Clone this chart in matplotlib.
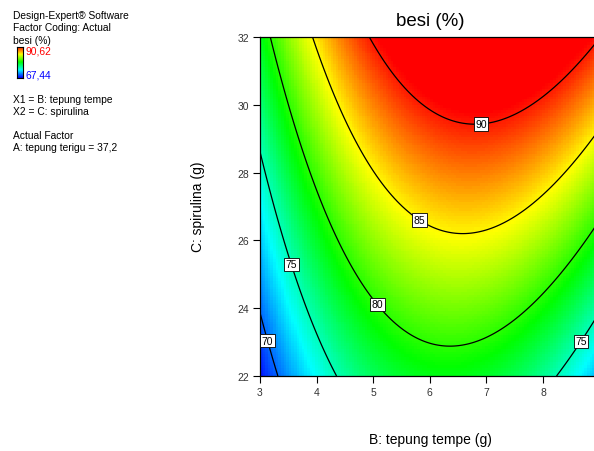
import numpy as np
import matplotlib
matplotlib.use("Agg")
import matplotlib.pyplot as plt
from matplotlib.colors import LinearSegmentedColormap

plt.rcParams['font.family'] = ['Liberation Sans', 'DejaVu Sans']

# Factor ranges (actual units)
b_range = [3.0, 9.0]      # B: tepung tempe (g)
c_range = [22.0, 32.0]    # C: spirulina (g)

# Quadratic model for besi (%), actual factors, A held at 37.2
# terms: intercept, B, C, B^2, C^2, B*C
coef = [26.9038, 9.414399, 0.542213, -0.979573, 0.002145, 0.132729]

levels = [70, 75, 80, 85, 90]
resp_min, resp_max = 67.44, 90.62

# label anchor points on each contour (B, C)
label_pts = [(3.18, 23.06), (3.56, 25.3), (8.64, 23.06), (5.1, 24.15), (5.84, 26.66), (6.9, 29.58)]

x_ticks = [3, 4, 5, 6, 7, 8]
y_ticks = [22, 24, 26, 28, 30, 32]


def response(b, c):
    return (coef[0] + coef[1]*b + coef[2]*c + coef[3]*b**2
            + coef[4]*c**2 + coef[5]*b*c)


fig = plt.figure(figsize=(5.94, 4.52), dpi=100)

cmap = LinearSegmentedColormap.from_list(
    "de", [(0, 0, 1), (0, 1, 1), (0, 1, 0), (1, 1, 0), (1, 0, 0)])

ax = fig.add_axes([260/594, 1-377/452, (599.6-260)/594, (377-38)/452])

# coarse colour grid
B = np.linspace(b_range[0], b_range[1], 130)
C = np.linspace(c_range[0], c_range[1], 125)
BB, CC = np.meshgrid(B, C)
ax.imshow(response(BB, CC), origin='lower',
          extent=[b_range[0], b_range[1], c_range[0], c_range[1]],
          cmap=cmap, vmin=resp_min, vmax=resp_max, aspect='auto',
          interpolation='nearest')

# fine grid for contour lines
Bf = np.linspace(b_range[0], b_range[1], 400)
Cf = np.linspace(c_range[0], c_range[1], 400)
BF, CF = np.meshgrid(Bf, Cf)
cs = ax.contour(BF, CF, response(BF, CF), levels=levels, colors='black', linewidths=0.9)
texts = ax.clabel(cs, fmt='%d', inline=False, manual=label_pts, fontsize=7.5)
for t in texts:
    t.set_rotation(0)
    t.set_bbox(dict(boxstyle='square,pad=0.15', facecolor='white',
                    edgecolor='black', linewidth=0.6))

ax.set_xlim(b_range)
ax.set_ylim(c_range)
ax.set_xticks(x_ticks)
ax.set_yticks(y_ticks)
ax.tick_params(direction='out', length=5, width=0.8, labelsize=7.5,
               labelcolor='#333333', pad=3)
for s in ax.spines.values():
    s.set_linewidth(0.9)

ax.set_title("besi (%)", fontsize=13.5, pad=9)
fig.text(430/594, 1-440/452, "B: tepung tempe (g)", ha='center', va='center', fontsize=10)
fig.text(198/594, 1-207/452, "C: spirulina (g)", ha='center', va='center',
         rotation=90, fontsize=10)

# information panel on the left
info = [("Design-Expert\u00ae Software", 16), ("Factor Coding: Actual", 28),
        ("besi (%)", 41), ("X1 = B: tepung tempe", 100), ("X2 = C: spirulina", 112),
        ("Actual Factor", 136), ("A: tepung terigu = 37,2", 148)]
for txt, ypix in info:
    fig.text(13/594, 1-ypix/452, txt, ha='left', va='center', fontsize=7.4)

cax = fig.add_axes([17/594, 1-79/452, 6/594, 31/452])
grad = np.linspace(0, 1, 64).reshape(-1, 1)
cax.imshow(grad, origin='lower', cmap=cmap, aspect='auto')
cax.set_xticks([])
cax.set_yticks([])
for s in cax.spines.values():
    s.set_linewidth(0.8)
fig.text(26/594, 1-52/452, "90,62", color='#ff0000', ha='left', va='center', fontsize=7.4)
fig.text(26/594, 1-76/452, "67,44", color='#0000ff', ha='left', va='center', fontsize=7.4)

fig.savefig("out.png", dpi=100)
